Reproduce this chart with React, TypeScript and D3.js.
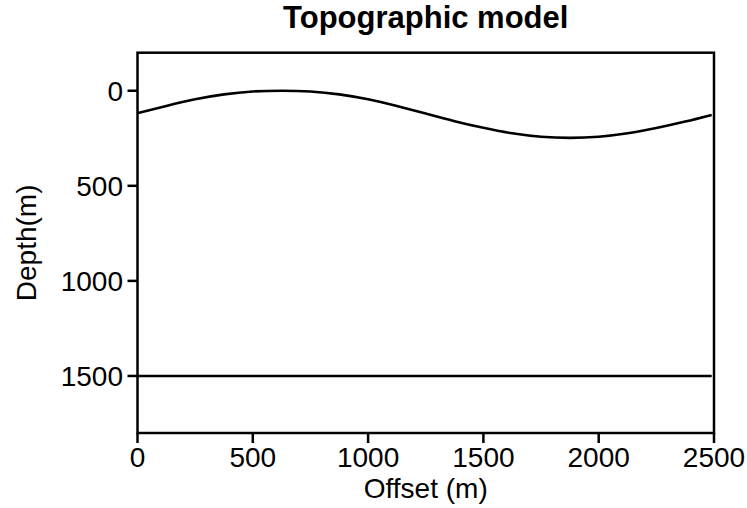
import React from "react";
import * as d3 from "d3";

// Surface topography: offset (m) vs depth (m)
const offsets = [0, 125, 250, 375, 500, 625, 750, 875, 1000, 1125, 1250, 1375, 1500, 1625, 1750, 1875, 2000, 2125, 2250, 2375, 2490];
const surfaceDepth = [118, 80, 45, 19, 4, 0, 4, 19, 45, 80, 120, 160, 195, 224, 242, 248, 242, 224, 196, 162, 127];

// Flat reflector
const reflectorOffsets = [0, 2490];
const reflectorDepth = [1500, 1500];

const xTicks = [0, 500, 1000, 1500, 2000, 2500];
const yTicks = [0, 500, 1000, 1500];

const W = 747;
const H = 508;
const M = { left: 137.5, right: 714, top: 52.7, bottom: 433 };
const FONT = "Liberation Sans, Arial, Helvetica, sans-serif";

export default function App() {
  const x = d3.scaleLinear().domain([0, 2500]).range([M.left, M.right]);
  const y = d3.scaleLinear().domain([-200, 1800]).range([M.top, M.bottom]);

  const line = d3
    .line<[number, number]>()
    .x((d) => x(d[0]))
    .y((d) => y(d[1]))
    .curve(d3.curveNatural);

  const surface = offsets.map((o, i) => [o, surfaceDepth[i]] as [number, number]);
  const reflector = reflectorOffsets.map((o, i) => [o, reflectorDepth[i]] as [number, number]);

  const cx = (M.left + M.right) / 2;
  const cy = (M.top + M.bottom) / 2;

  return (
    <svg
      width={W}
      height={H}
      style={{ position: "absolute", left: 0, top: 0, background: "#fff" }}
      fontFamily={FONT}
    >
      <rect x={0} y={0} width={W} height={H} fill="#fff" />
      <path d={line(reflector) ?? ""} fill="none" stroke="#000" strokeWidth={2.6} />
      <path d={line(surface) ?? ""} fill="none" stroke="#000" strokeWidth={2.6} />

      {/* axes box */}
      <rect
        x={M.left}
        y={M.top}
        width={M.right - M.left}
        height={M.bottom - M.top}
        fill="none"
        stroke="#000"
        strokeWidth={2.5}
      />

      {/* x ticks */}
      {xTicks.map((t) => (
        <g key={"x" + t}>
          <line x1={x(t)} x2={x(t)} y1={M.bottom} y2={M.bottom + 10} stroke="#000" strokeWidth={2.5} />
          <text x={x(t)} y={466.5} fontSize={28} textAnchor="middle" fill="#000">
            {t}
          </text>
        </g>
      ))}

      {/* y ticks */}
      {yTicks.map((t) => (
        <g key={"y" + t}>
          <line x1={M.left - 10} x2={M.left} y1={y(t)} y2={y(t)} stroke="#000" strokeWidth={2.5} />
          <text x={123} y={y(t)} dy="0.36em" fontSize={28} textAnchor="end" fill="#000">
            {t}
          </text>
        </g>
      ))}

      <text x={cx} y={498} fontSize={28} textAnchor="middle" fill="#000">
        Offset (m)
      </text>
      <text
        transform={`translate(35.5, ${cy}) rotate(-90)`}
        fontSize={28}
        textAnchor="middle"
        fill="#000"
      >
        Depth(m)
      </text>
      <text x={cx} y={28.3} fontSize={31} fontWeight="bold" textAnchor="middle" fill="#000">
        Topographic model
      </text>
    </svg>
  );
}
